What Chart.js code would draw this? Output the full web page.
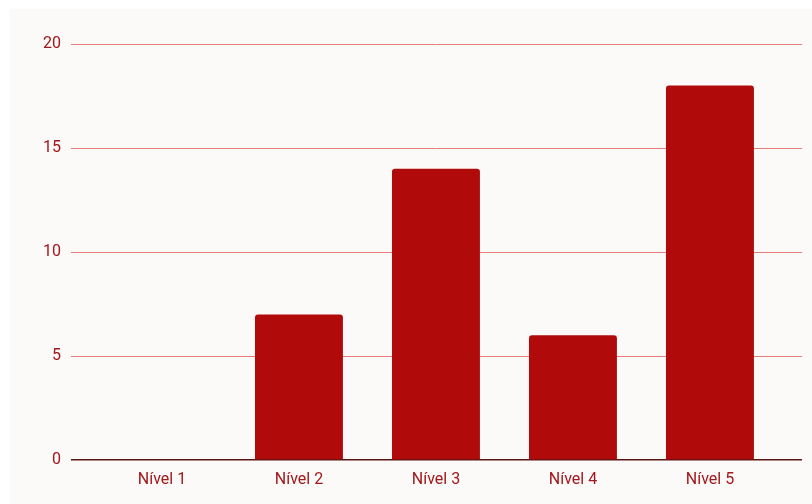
<!DOCTYPE html>
<html lang="pt">
<head>
  <meta charset="UTF-8" />
  <title>Distribuição por nível</title>
  <script src="https://cdn.jsdelivr.net/npm/chart.js"></script>
  <style>
    body { margin: 0; background: #ffffff; font-family: Roboto, sans-serif; }
    .chart-box { position: absolute; left: 10px; top: 9px; width: 802px; height: 495px; background: #fcfaf9; }
  </style>
</head>
<body>
  <div class="chart-box">
    <canvas id="levels-chart"></canvas>
  </div>
  <script>
    // Count per level
    const levels = ['Nível 1', 'Nível 2', 'Nível 3', 'Nível 4', 'Nível 5'];
    const counts = [0, 7, 14, 6, 18];
    const yTicks = [0, 5, 10, 15, 20];

    const textColor = '#a3171a';
    const barColor = '#b10a0a';

    const ctx = document.getElementById('levels-chart').getContext('2d');
    new Chart(ctx, {
      type: 'bar',
      data: {
        datasets: [{
          data: levels.map((name, i) => ({ x: i + 1, y: counts[i] })),
          backgroundColor: barColor,
          borderRadius: { topLeft: 3, topRight: 3 },
          borderSkipped: 'bottom',
          categoryPercentage: 1,
          barPercentage: 0.642
        }]
      },
      options: {
        responsive: true,
        maintainAspectRatio: false,
        animation: false,
        layout: { padding: { top: 35, right: 10, bottom: 0, left: 0 } },
        plugins: { legend: { display: false }, tooltip: { enabled: false } },
        scales: {
          // linear x so the outer margins left and right of the bars can be tuned
          x: {
            type: 'linear',
            offset: false,
            min: 0.336,
            max: 5.672,
            afterFit: (scale) => { scale.height = 44; scale.paddingLeft = 0; scale.paddingRight = 0; },
            grid: { display: false, offset: false },
            border: { display: false },
            ticks: {
              stepSize: 1,
              includeBounds: false,
              autoSkip: false,
              maxRotation: 0,
              padding: 2,
              color: textColor,
              font: { family: 'Roboto', size: 16 },
              callback: (v) => Number.isInteger(v) && v >= 1 && v <= levels.length ? levels[v - 1] : ''
            }
          },
          y: {
            min: 0,
            max: 20,
            afterFit: (scale) => { scale.width = 61; },
            afterBuildTicks: (scale) => { scale.ticks = yTicks.map(v => ({ value: v })); },
            border: { display: false },
            grid: {
              drawTicks: false,
              lineWidth: (c) => c.tick.value === 0 ? 1.5 : 1,
              color: (c) => c.tick.value === 0 ? '#5a1414' : '#e57d7d'
            },
            ticks: {
              padding: 10,
              color: textColor,
              font: { family: 'Roboto', size: 16 }
            }
          }
        }
      }
    });
  </script>
</body>
</html>
